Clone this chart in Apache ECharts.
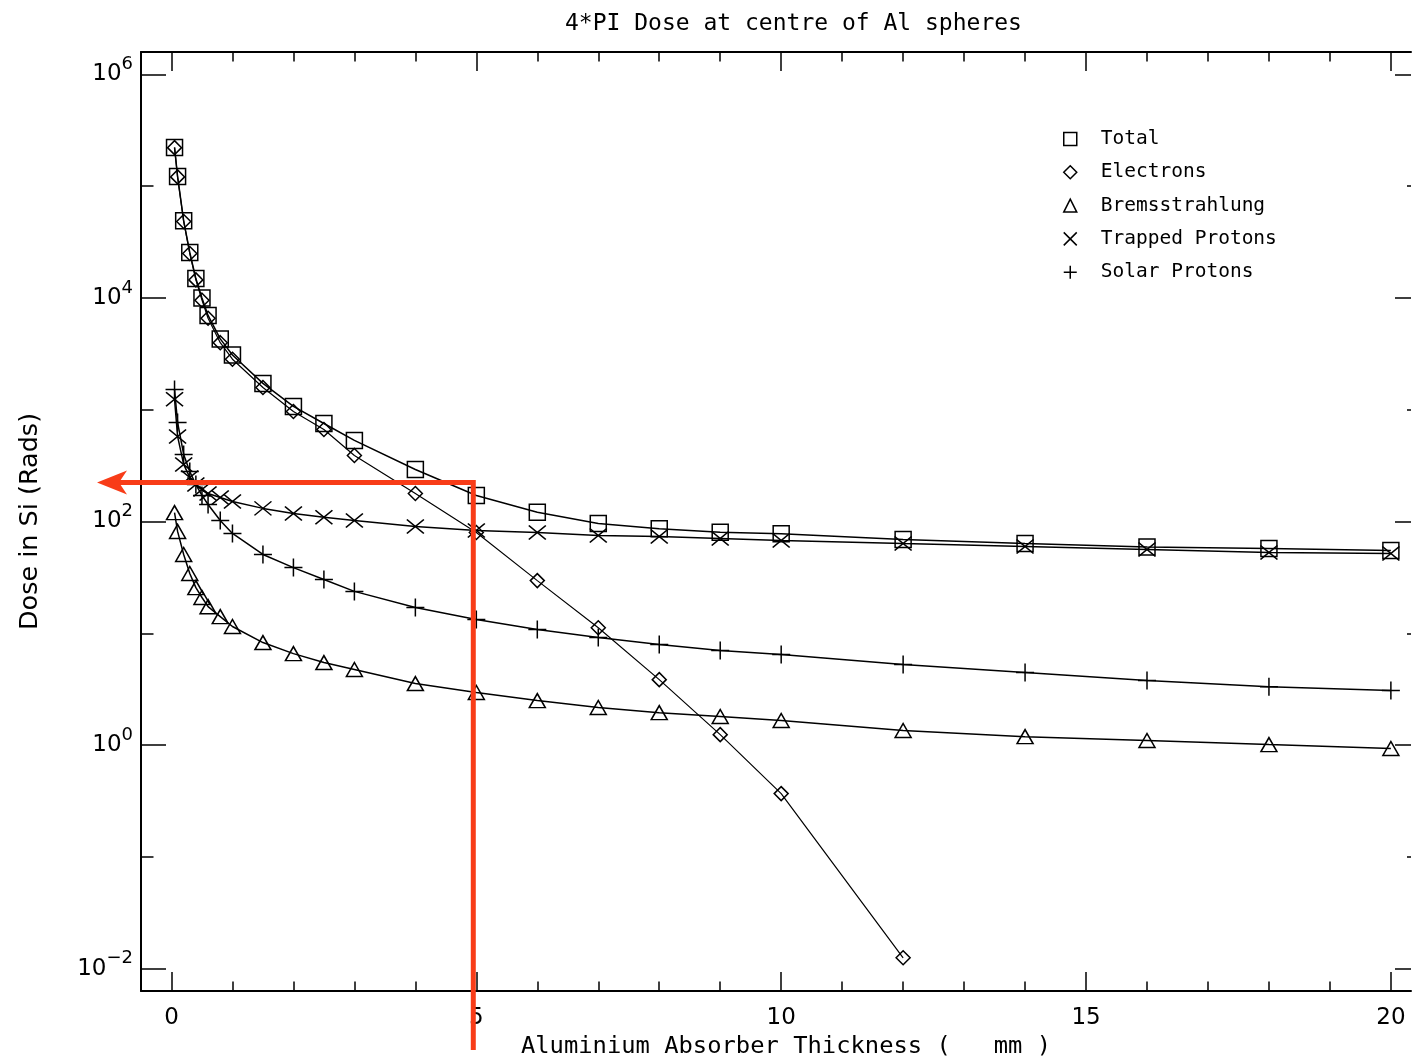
<!DOCTYPE html>
<html lang="en">
<head>
<meta charset="UTF-8">
<title>4*PI Dose at centre of Al spheres</title>
<script src="https://cdn.jsdelivr.net/npm/echarts@6/dist/echarts.min.js"></script>
<style>
  html, body { margin: 0; padding: 0; background: #fff; }
  #chart { width: 1412px; height: 1059px; }
</style>
</head>
<body>
<div id="chart"></div>
<script>
// aluminium absorber thickness (mm)
var thickness = [0.05, 0.1, 0.2, 0.3, 0.4, 0.5, 0.6, 0.8, 1.0, 1.5, 2, 2.5, 3, 4, 5, 6, 7, 8, 9, 10, 12, 14, 16, 18, 20];

// dose in Si (rads)
var total     = [2.22e5, 1.22e5, 4.89e4, 2.55e4, 1.49e4, 1.00e4, 6970, 4300, 3090, 1720, 1070, 753, 531, 292, 171, 121, 95.9, 86.1, 80.2, 77.6, 69.0, 63.5, 59.2, 57.3, 55.1];
var electrons = [2.21e5, 1.21e5, 4.83e4, 2.50e4, 1.45e4, 9550, 6580, 3980, 2830, 1580, 964, 665, 390, 178, 79.8, 29.6, 11.2, 3.85, 1.24, 0.368, 0.0125];
var brems     = [120, 81.5, 50.7, 34.3, 25.6, 20.9, 17.3, 14.1, 11.5, 8.26, 6.58, 5.47, 4.74, 3.55, 2.95, 2.50, 2.17, 1.95, 1.80, 1.66, 1.35, 1.19, 1.10, 1.01, 0.931];
var trapped   = [1240, 577, 324, 248, 214, 193, 178, 164, 151, 131, 118, 109, 102, 90.2, 83.0, 79.8, 75.0, 73.5, 70.5, 67.6, 63.5, 59.7, 56.1, 52.7, 51.8];
var solar     = [1520, 769, 398, 280, 214, 171, 142, 102, 78.2, 50.7, 38.7, 30.3, 23.7, 17.0, 13.3, 10.8, 9.16, 7.93, 7.01, 6.46, 5.25, 4.46, 3.78, 3.33, 3.08];

var seriesNames = ['Total', 'Electrons', 'Bremsstrahlung', 'Trapped Protons', 'Solar Protons'];

// tick positions (x in mm, y as log10 of dose)
var xMajorTicks = [0, 5, 10, 15, 20];
var xMinorTicks = [1, 2, 3, 4, 6, 7, 8, 9, 11, 12, 13, 14, 16, 17, 18, 19];
var yMajorTicks = [-2, 0, 2, 4, 6];
var yMinorTicks = [-1, 1, 3, 5];

// red annotation: thickness and dose where the guide lines meet
var markThickness = 4.95;
var markDose = 223;

var FONT = 'DejaVu Sans';
var MONO = 'DejaVu Sans Mono';
var SYM_X = 'path://M0,0L10,10M10,0L0,10';
var SYM_PLUS = 'path://M5,0L5,10M0,5L10,5';

// the original plot runs a little past the right edge of the image,
// so the x range is cut at 20.33 and the right frame line is not drawn
function xAx(pos, ticks, len, main) {
  return {
    type: 'value', gridIndex: 0, position: pos, min: -0.5, max: 20.33,
    axisLine: { show: main, onZero: false, lineStyle: { color: '#000', width: 2 } },
    axisTick: { show: true, inside: true, length: len, customValues: ticks, lineStyle: { color: '#000', width: 1.5 } },
    axisLabel: { show: main && pos === 'bottom', customValues: ticks, margin: 16, color: '#000', fontFamily: FONT, fontSize: 23 },
    splitLine: { show: false },
    axisPointer: { show: false }
  };
}

function yAx(pos, ticks, len, main) {
  return {
    type: 'value', gridIndex: 0, position: pos, min: -2.2, max: 6.2,
    axisLine: { show: main && pos === 'left', onZero: false, lineStyle: { color: '#000', width: 2 } },
    axisTick: { show: true, inside: true, length: len, customValues: ticks, lineStyle: { color: '#000', width: 1.5 } },
    axisLabel: {
      show: main && pos === 'left', customValues: ticks, margin: 8, color: '#000',
      formatter: function (v) {
        var e = v < 0 ? '\u2212' + Math.abs(v) : String(v);
        return '{b|10}{s|' + e + '}';
      },
      rich: {
        b: { fontFamily: FONT, fontSize: 23, lineHeight: 38, color: '#000' },
        s: { fontFamily: FONT, fontSize: 18, lineHeight: 18, verticalAlign: 'top', color: '#000' }
      }
    },
    splitLine: { show: false },
    axisPointer: { show: false }
  };
}

function mk(name, vals, symbol, size, width) {
  return {
    name: name, type: 'line', xAxisIndex: 0, yAxisIndex: 0,
    data: vals.map(function (v, i) { return [thickness[i], Math.log10(v)]; }),
    symbol: symbol, symbolSize: size, showSymbol: true, showAllSymbol: true,
    lineStyle: { color: '#000', width: width },
    itemStyle: { color: 'rgba(0,0,0,0)', borderColor: '#000', borderWidth: 1.5 },
    emphasis: { disabled: true },
    animation: false
  };
}

var xAxes = [xAx('bottom', xMajorTicks, 19, true), xAx('bottom', xMinorTicks, 9.5, false),
             xAx('top', xMajorTicks, 19, true), xAx('top', xMinorTicks, 9.5, false)];
xAxes[0].name = 'Aluminium Absorber Thickness (   mm )';
xAxes[0].nameLocation = 'middle';
xAxes[0].nameGap = 41;
xAxes[0].nameTextStyle = { fontFamily: MONO, fontSize: 23.8, color: '#000', padding: [0, 0, 0, 20] };

var yAxes = [yAx('left', yMajorTicks, 25, true), yAx('left', yMinorTicks, 12.5, false),
             yAx('right', yMajorTicks, 16, true), yAx('right', yMinorTicks, 4, false)];
yAxes[0].name = 'Dose in Si (Rads)';
yAxes[0].nameLocation = 'middle';
yAxes[0].nameRotate = 90;
yAxes[0].nameGap = 98;
yAxes[0].nameTextStyle = { fontFamily: FONT, fontSize: 25.5, color: '#000' };

var legendIcons = ['rect', 'diamond', 'triangle', SYM_X, SYM_PLUS];
var chart = echarts.init(document.getElementById('chart'), null, { renderer: 'canvas' });

chart.setOption({
  animation: false,
  backgroundColor: '#fff',
  title: {
    text: '4*PI Dose at centre of Al spheres', left: 560, top: 8,
    textStyle: { fontFamily: MONO, fontSize: 23, fontWeight: 'normal', color: '#000' }
  },
  grid: { left: 141, top: 52, right: 1, bottom: 68, outerBoundsMode: 'none' },
  xAxis: xAxes,
  yAxis: yAxes,
  legend: {
    orient: 'vertical', left: 1063, top: 129, padding: 0,
    itemWidth: 13, itemHeight: 13, itemGap: 13.3,
    selectedMode: false,
    textStyle: { fontFamily: MONO, fontSize: 19.5, lineHeight: 20, color: '#000', padding: [0, 0, 0, 19] },
    itemStyle: { color: 'rgba(0,0,0,0)', borderColor: '#000', borderWidth: 1.5 },
    data: seriesNames.map(function (n, i) { return { name: n, icon: legendIcons[i] }; })
  },
  series: [
    mk('Total', total, 'rect', 16, 1.5),
    mk('Electrons', electrons, 'diamond', 14, 1.2),
    mk('Bremsstrahlung', brems, 'triangle', [16, 14], 1.5),
    mk('Trapped Protons', trapped, SYM_X, [17, 14], 1.5),
    mk('Solar Protons', solar, SYM_PLUS, [18, 18], 1.5)
  ]
});

// red guide lines with arrow, anchored to the data point in the chart
var p = chart.convertToPixel({ gridIndex: 0 }, [markThickness, Math.log10(markDose)]);
var red = '#f83c18';
var tipX = 97;
chart.setOption({
  graphic: [
    { type: 'polyline', z: 100, shape: { points: [[p[0], 1050], [p[0], p[1]], [tipX + 20, p[1]]] },
      style: { stroke: red, lineWidth: 5, fill: null } },
    { type: 'polygon', z: 100, shape: { points: [[tipX, p[1]], [tipX + 30, p[1] - 12], [tipX + 22, p[1]], [tipX + 30, p[1] + 12]] },
      style: { fill: red } }
  ]
});
</script>
</body>
</html>
